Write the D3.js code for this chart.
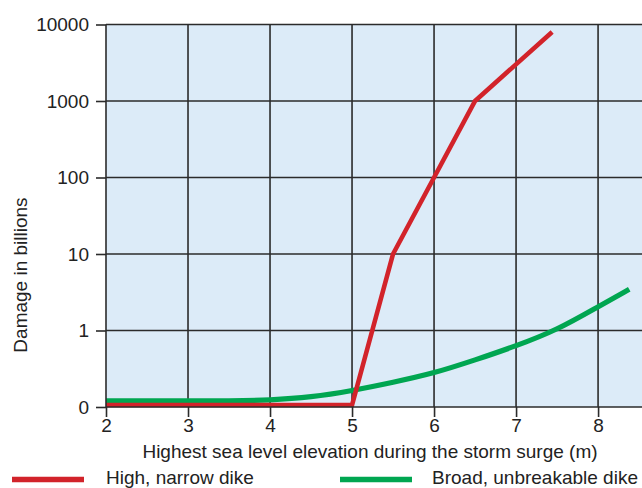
<!DOCTYPE html>
<html>
<head>
<meta charset="utf-8">
<script src="https://cdn.jsdelivr.net/npm/d3@7"></script>
<style>
  html, body { margin: 0; padding: 0; background: #fff; }
  svg { display: block; font-family: "Liberation Sans", Arial, Helvetica, sans-serif; }
</style>
</head>
<body>
<svg id="chart" width="642" height="488"></svg>
<script>
// Sea level (m) vs. damage (billions), log scale; the bottom line is labelled 0
const xTicks = [2, 3, 4, 5, 6, 7, 8];
const yTicks = [0.1, 1, 10, 100, 1000, 10000];
const yTickLabels = ["0", "1", "10", "100", "1000", "10000"];

const narrowLevel = [2, 5, 5.5, 6, 6.5, 7.44];
const narrowDamage = [0.106, 0.106, 10, 100, 1000, 8000];

const broadLevel = [2, 3, 3.5, 4, 4.5, 5, 5.5, 6, 6.5, 7, 7.5, 8, 8.38];
const broadDamage = [0.12, 0.12, 0.12, 0.123, 0.134, 0.163, 0.21, 0.276, 0.411, 0.627, 1.015, 2.05, 3.46];

const seriesNames = ["High, narrow dike", "Broad, unbreakable dike"];
const seriesColors = ["#d2232a", "#00a651"];

const svg = d3.select("#chart");
const W = 642;
const plotLeft = 106, plotTop = 24.5, plotBottom = 407;

const x = d3.scaleLinear().domain([2, 8.56]).range([plotLeft, 644]);
const y = d3.scaleLog().domain([0.1, 10000]).range([plotBottom, plotTop]);

// plot background
svg.append("rect")
  .attr("x", plotLeft).attr("y", plotTop)
  .attr("width", W - plotLeft).attr("height", plotBottom - plotTop)
  .attr("fill", "#dcebf8");

// grid
const grid = svg.append("g").attr("stroke", "#2b2b2b").attr("stroke-width", 1.6);
grid.selectAll("line.v").data(xTicks.slice(1)).join("line")
  .attr("x1", d => x(d)).attr("x2", d => x(d))
  .attr("y1", plotTop).attr("y2", plotBottom);
grid.selectAll("line.h").data(yTicks.slice(1)).join("line")
  .attr("x1", plotLeft).attr("x2", W)
  .attr("y1", d => y(d)).attr("y2", d => y(d));

// series
const pts = (xs, ys) => xs.map((v, i) => [v, ys[i]]);

svg.append("path")
  .datum(pts(broadLevel, broadDamage))
  .attr("d", d3.line().x(d => x(d[0])).y(d => y(d[1])).curve(d3.curveBasis))
  .attr("fill", "none")
  .attr("stroke", seriesColors[1])
  .attr("stroke-width", 5.2);

svg.append("path")
  .datum(pts(narrowLevel, narrowDamage))
  .attr("d", d3.line().x(d => x(d[0])).y(d => y(d[1])))
  .attr("fill", "none")
  .attr("stroke", seriesColors[0])
  .attr("stroke-width", 4.6)
  .attr("stroke-linejoin", "miter");

// axes
const yAxis = d3.axisLeft(y)
  .tickValues(yTicks)
  .tickFormat((d, i) => yTickLabels[i])
  .tickSize(10)
  .tickPadding(7);
const gy = svg.append("g").attr("transform", `translate(${plotLeft},0)`).call(yAxis);

const xAxis = d3.axisBottom(x)
  .tickValues(xTicks)
  .tickFormat(d3.format("d"))
  .tickSize(10)
  .tickPadding(2);
const gx = svg.append("g").attr("transform", `translate(0,${plotBottom})`).call(xAxis);

[gx, gy].forEach(g => {
  g.select(".domain").remove();
  g.selectAll(".tick line").attr("stroke", "#2b2b2b").attr("stroke-width", 1.6);
  g.selectAll(".tick text").attr("fill", "#222").style("font-size", "19px")
    .style("font-family", "'Liberation Sans', Arial, sans-serif");
});

// axis lines
svg.append("line").attr("x1", plotLeft).attr("x2", W).attr("y1", plotBottom).attr("y2", plotBottom)
  .attr("stroke", "#2b2b2b").attr("stroke-width", 1.6);
svg.append("line").attr("x1", plotLeft).attr("x2", plotLeft).attr("y1", plotTop).attr("y2", plotBottom)
  .attr("stroke", "#2b2b2b").attr("stroke-width", 1.6);

// axis titles
svg.append("text")
  .attr("x", 370).attr("y", 458)
  .attr("text-anchor", "middle")
  .attr("fill", "#222")
  .style("font-size", "19px")
  .text("Highest sea level elevation during the storm surge (m)");

svg.append("text")
  .attr("transform", "translate(27,275) rotate(-90)")
  .attr("text-anchor", "middle")
  .attr("fill", "#222")
  .style("font-size", "19px")
  .text("Damage in billions");

// legend
const legend = [
  { x1: 12, x2: 84, tx: 106 },
  { x1: 340, x2: 412, tx: 432 }
];
legend.forEach((l, i) => {
  svg.append("line")
    .attr("x1", l.x1).attr("x2", l.x2).attr("y1", 479.5).attr("y2", 479.5)
    .attr("stroke", seriesColors[i]).attr("stroke-width", 5.5);
  svg.append("text")
    .attr("x", l.tx).attr("y", 484)
    .attr("fill", "#222")
    .style("font-size", "19px")
    .text(seriesNames[i]);
});
</script>
</body>
</html>
